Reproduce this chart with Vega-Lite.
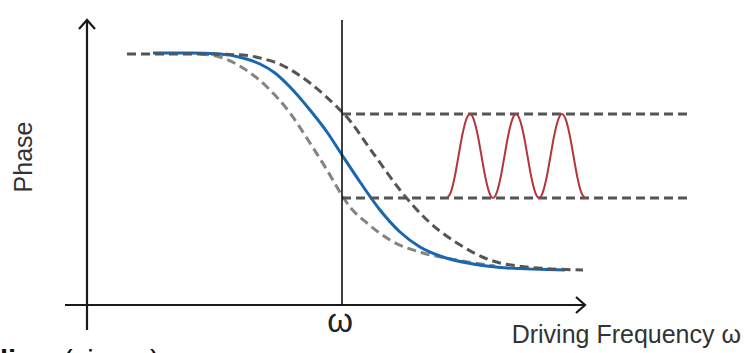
{
  "$schema": "https://vega.github.io/schema/vega-lite/v6.json",
  "width": 744,
  "height": 353,
  "autosize": {"type": "none"},
  "padding": 0,
  "background": "white",
  "config": {"view": {"stroke": null}, "font": "Liberation Sans"},
  "datasets": {
    "lines": [
      {"s": "axis", "id": "yaxis", "i": 0, "x": 0, "y": -2.5},
      {"s": "axis", "id": "yaxis", "i": 1, "x": 0, "y": 28.5},
      {"s": "axis", "id": "yarrow", "i": 0, "x": -0.8, "y": 27.6},
      {"s": "axis", "id": "yarrow", "i": 1, "x": 0, "y": 28.5},
      {"s": "axis", "id": "yarrow", "i": 2, "x": 0.8, "y": 27.6},
      {"s": "axis", "id": "xaxis", "i": 0, "x": -2.2, "y": 0},
      {"s": "axis", "id": "xaxis", "i": 1, "x": 49.8, "y": 0},
      {"s": "axis", "id": "xarrow", "i": 0, "x": 48.9, "y": 0.8},
      {"s": "axis", "id": "xarrow", "i": 1, "x": 49.8, "y": 0},
      {"s": "axis", "id": "xarrow", "i": 2, "x": 48.9, "y": -0.8},
      {"s": "omega", "id": "wline", "i": 0, "x": 25.5, "y": 0},
      {"s": "omega", "id": "wline", "i": 1, "x": 25.5, "y": 28.5},
      {"s": "hline", "id": "h1", "i": 0, "x": 25.5, "y": 19.1},
      {"s": "hline", "id": "h1", "i": 1, "x": 60.1, "y": 19.1},
      {"s": "hline", "id": "h2", "i": 0, "x": 25.5, "y": 10.7},
      {"s": "hline", "id": "h2", "i": 1, "x": 60.1, "y": 10.7},
      {"s": "blue", "id": "blue", "i": 0, "x": 6.6, "y": 25.2},
      {"s": "blue", "id": "blue", "i": 1, "x": 10.3, "y": 25.2},
      {"s": "blue", "id": "blue", "i": 2, "x": 13.3, "y": 25.1},
      {"s": "blue", "id": "blue", "i": 3, "x": 15.6, "y": 24.7},
      {"s": "blue", "id": "blue", "i": 4, "x": 17.3, "y": 24.1},
      {"s": "blue", "id": "blue", "i": 5, "x": 18.8, "y": 23.2},
      {"s": "blue", "id": "blue", "i": 6, "x": 20.3, "y": 21.8},
      {"s": "blue", "id": "blue", "i": 7, "x": 22.3, "y": 19.5},
      {"s": "blue", "id": "blue", "i": 8, "x": 24.0, "y": 17.3},
      {"s": "blue", "id": "blue", "i": 9, "x": 25.5, "y": 15.0},
      {"s": "blue", "id": "blue", "i": 10, "x": 27.3, "y": 12.3},
      {"s": "blue", "id": "blue", "i": 11, "x": 29.3, "y": 9.5},
      {"s": "blue", "id": "blue", "i": 12, "x": 31.3, "y": 7.3},
      {"s": "blue", "id": "blue", "i": 13, "x": 33.3, "y": 5.8},
      {"s": "blue", "id": "blue", "i": 14, "x": 35.3, "y": 4.9},
      {"s": "blue", "id": "blue", "i": 15, "x": 38.6, "y": 4.1},
      {"s": "blue", "id": "blue", "i": 16, "x": 42.0, "y": 3.7},
      {"s": "blue", "id": "blue", "i": 17, "x": 47.8, "y": 3.5},
      {"s": "upper", "id": "upper", "i": 0, "x": 4.0, "y": 25.1},
      {"s": "upper", "id": "upper", "i": 1, "x": 11.3, "y": 25.1},
      {"s": "upper", "id": "upper", "i": 2, "x": 15.6, "y": 25.0},
      {"s": "upper", "id": "upper", "i": 3, "x": 17.3, "y": 24.7},
      {"s": "upper", "id": "upper", "i": 4, "x": 19.0, "y": 24.2},
      {"s": "upper", "id": "upper", "i": 5, "x": 22.3, "y": 22.2},
      {"s": "upper", "id": "upper", "i": 6, "x": 25.0, "y": 19.8},
      {"s": "upper", "id": "upper", "i": 7, "x": 25.8, "y": 19.0},
      {"s": "upper", "id": "upper", "i": 8, "x": 28.6, "y": 15.2},
      {"s": "upper", "id": "upper", "i": 9, "x": 31.3, "y": 11.5},
      {"s": "upper", "id": "upper", "i": 10, "x": 34.0, "y": 8.5},
      {"s": "upper", "id": "upper", "i": 11, "x": 37.0, "y": 6.2},
      {"s": "upper", "id": "upper", "i": 12, "x": 40.3, "y": 4.5},
      {"s": "upper", "id": "upper", "i": 13, "x": 44.0, "y": 3.8},
      {"s": "upper", "id": "upper", "i": 14, "x": 49.6, "y": 3.5},
      {"s": "lower", "id": "lower", "i": 0, "x": 11.3, "y": 25.1},
      {"s": "lower", "id": "lower", "i": 1, "x": 13.3, "y": 24.8},
      {"s": "lower", "id": "lower", "i": 2, "x": 15.6, "y": 23.7},
      {"s": "lower", "id": "lower", "i": 3, "x": 18.0, "y": 21.8},
      {"s": "lower", "id": "lower", "i": 4, "x": 20.3, "y": 19.2},
      {"s": "lower", "id": "lower", "i": 5, "x": 22.3, "y": 16.2},
      {"s": "lower", "id": "lower", "i": 6, "x": 24.0, "y": 13.5},
      {"s": "lower", "id": "lower", "i": 7, "x": 25.6, "y": 10.8},
      {"s": "lower", "id": "lower", "i": 8, "x": 26.3, "y": 9.8},
      {"s": "lower", "id": "lower", "i": 9, "x": 28.0, "y": 8.2},
      {"s": "lower", "id": "lower", "i": 10, "x": 30.3, "y": 6.5},
      {"s": "lower", "id": "lower", "i": 11, "x": 33.6, "y": 5.2},
      {"s": "lower", "id": "lower", "i": 12, "x": 37.0, "y": 4.5},
      {"s": "lower", "id": "lower", "i": 13, "x": 40.8, "y": 3.9},
      {"s": "red", "id": "red", "i": 0, "x": 36.00, "y": 10.7},
      {"s": "red", "id": "red", "i": 1, "x": 36.38, "y": 11.26},
      {"s": "red", "id": "red", "i": 2, "x": 36.77, "y": 12.8},
      {"s": "red", "id": "red", "i": 3, "x": 37.15, "y": 14.9},
      {"s": "red", "id": "red", "i": 4, "x": 37.53, "y": 17.0},
      {"s": "red", "id": "red", "i": 5, "x": 37.92, "y": 18.54},
      {"s": "red", "id": "red", "i": 6, "x": 38.30, "y": 19.1},
      {"s": "red", "id": "red", "i": 7, "x": 38.68, "y": 18.54},
      {"s": "red", "id": "red", "i": 8, "x": 39.07, "y": 17.0},
      {"s": "red", "id": "red", "i": 9, "x": 39.45, "y": 14.9},
      {"s": "red", "id": "red", "i": 10, "x": 39.83, "y": 12.8},
      {"s": "red", "id": "red", "i": 11, "x": 40.22, "y": 11.26},
      {"s": "red", "id": "red", "i": 12, "x": 40.60, "y": 10.7},
      {"s": "red", "id": "red", "i": 13, "x": 40.98, "y": 11.26},
      {"s": "red", "id": "red", "i": 14, "x": 41.37, "y": 12.8},
      {"s": "red", "id": "red", "i": 15, "x": 41.75, "y": 14.9},
      {"s": "red", "id": "red", "i": 16, "x": 42.13, "y": 17.0},
      {"s": "red", "id": "red", "i": 17, "x": 42.52, "y": 18.54},
      {"s": "red", "id": "red", "i": 18, "x": 42.90, "y": 19.1},
      {"s": "red", "id": "red", "i": 19, "x": 43.28, "y": 18.54},
      {"s": "red", "id": "red", "i": 20, "x": 43.67, "y": 17.0},
      {"s": "red", "id": "red", "i": 21, "x": 44.05, "y": 14.9},
      {"s": "red", "id": "red", "i": 22, "x": 44.43, "y": 12.8},
      {"s": "red", "id": "red", "i": 23, "x": 44.82, "y": 11.26},
      {"s": "red", "id": "red", "i": 24, "x": 45.20, "y": 10.7},
      {"s": "red", "id": "red", "i": 25, "x": 45.58, "y": 11.26},
      {"s": "red", "id": "red", "i": 26, "x": 45.97, "y": 12.8},
      {"s": "red", "id": "red", "i": 27, "x": 46.35, "y": 14.9},
      {"s": "red", "id": "red", "i": 28, "x": 46.73, "y": 17.0},
      {"s": "red", "id": "red", "i": 29, "x": 47.12, "y": 18.54},
      {"s": "red", "id": "red", "i": 30, "x": 47.50, "y": 19.1},
      {"s": "red", "id": "red", "i": 31, "x": 47.88, "y": 18.54},
      {"s": "red", "id": "red", "i": 32, "x": 48.27, "y": 17.0},
      {"s": "red", "id": "red", "i": 33, "x": 48.65, "y": 14.9},
      {"s": "red", "id": "red", "i": 34, "x": 49.03, "y": 12.8},
      {"s": "red", "id": "red", "i": 35, "x": 49.42, "y": 11.26},
      {"s": "red", "id": "red", "i": 36, "x": 49.80, "y": 10.7}
    ],
    "texts": [
      {"k": "phase", "t": "Phase", "x": -6.3, "y": 14.8},
      {"k": "omega", "t": "ω", "x": 25.3, "y": -2.7},
      {"k": "xlabel", "t": "Driving Frequency ω", "x": 65.4, "y": -3.8},
      {"k": "bold", "t": "line", "x": -8.7, "y": -6.6},
      {"k": "normal", "t": "(vimeo)", "x": -2.4, "y": -6.6}
    ]
  },
  "encoding": {
    "x": {"field": "x", "type": "quantitative", "scale": {"domain": [-8.7, 65.7], "nice": false, "zero": false}, "axis": null},
    "y": {"field": "y", "type": "quantitative", "scale": {"domain": [-4.8, 30.5], "nice": false, "zero": false}, "axis": null}
  },
  "layer": [
    {
      "data": {"name": "lines"},
      "transform": [{"filter": "datum.s === 'lower'"}],
      "mark": {"type": "line", "interpolate": "monotone", "stroke": "#848484", "strokeWidth": 3, "strokeDash": [9, 5]},
      "encoding": {"detail": {"field": "id"}, "order": {"field": "i"}}
    },
    {
      "data": {"name": "lines"},
      "transform": [{"filter": "datum.s === 'blue'"}],
      "mark": {"type": "line", "interpolate": "monotone", "stroke": "#1a66b0", "strokeWidth": 3},
      "encoding": {"detail": {"field": "id"}, "order": {"field": "i"}}
    },
    {
      "data": {"name": "lines"},
      "transform": [{"filter": "datum.s === 'upper' || datum.s === 'hline'"}],
      "mark": {"type": "line", "interpolate": "monotone", "stroke": "#555555", "strokeWidth": 3, "strokeDash": [9, 5]},
      "encoding": {"detail": {"field": "id"}, "order": {"field": "i"}}
    },
    {
      "data": {"name": "lines"},
      "transform": [{"filter": "datum.s === 'red'"}],
      "mark": {"type": "line", "interpolate": "monotone", "stroke": "#b3363c", "strokeWidth": 2},
      "encoding": {"detail": {"field": "id"}, "order": {"field": "i"}}
    },
    {
      "data": {"name": "lines"},
      "transform": [{"filter": "datum.s === 'axis'"}],
      "mark": {"type": "line", "interpolate": "linear", "stroke": "#1a1a1a", "strokeWidth": 2.2, "strokeJoin": "miter", "strokeCap": "butt"},
      "encoding": {"detail": {"field": "id"}, "order": {"field": "i"}}
    },
    {
      "data": {"name": "lines"},
      "transform": [{"filter": "datum.s === 'omega'"}],
      "mark": {"type": "line", "interpolate": "linear", "stroke": "#111111", "strokeWidth": 1.6},
      "encoding": {"detail": {"field": "id"}, "order": {"field": "i"}}
    },
    {
      "data": {"name": "texts"},
      "transform": [{"filter": "datum.k === 'phase'"}],
      "mark": {"type": "text", "angle": 270, "align": "center", "baseline": "middle", "fontSize": 25, "color": "#333333"},
      "encoding": {"text": {"field": "t"}}
    },
    {
      "data": {"name": "texts"},
      "transform": [{"filter": "datum.k === 'omega'"}],
      "mark": {"type": "text", "align": "center", "baseline": "alphabetic", "fontSize": 33, "color": "#222222"},
      "encoding": {"text": {"field": "t"}}
    },
    {
      "data": {"name": "texts"},
      "transform": [{"filter": "datum.k === 'xlabel'"}],
      "mark": {"type": "text", "align": "right", "baseline": "alphabetic", "fontSize": 25, "color": "#333333"},
      "encoding": {"text": {"field": "t"}}
    },
    {
      "data": {"name": "texts"},
      "transform": [{"filter": "datum.k === 'bold'"}],
      "mark": {"type": "text", "align": "left", "baseline": "alphabetic", "fontSize": 29, "fontWeight": "bold", "color": "#111111"},
      "encoding": {"text": {"field": "t"}}
    },
    {
      "data": {"name": "texts"},
      "transform": [{"filter": "datum.k === 'normal'"}],
      "mark": {"type": "text", "align": "left", "baseline": "alphabetic", "fontSize": 29, "color": "#111111"},
      "encoding": {"text": {"field": "t"}}
    }
  ]
}
